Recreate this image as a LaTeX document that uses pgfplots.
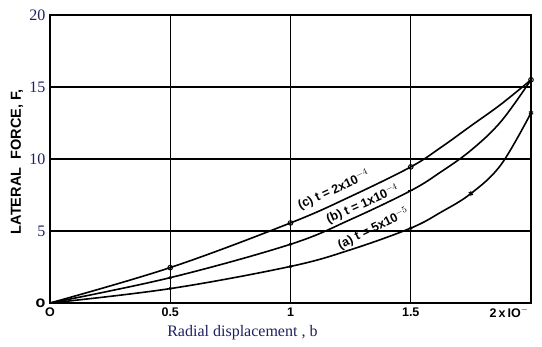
\documentclass[border=0pt]{standalone}
\usepackage{pgfplots}
\pgfplotsset{compat=1.18}
\usepackage{fontspec}
\setmainfont{Liberation Serif}
\setsansfont{Liberation Sans}
\definecolor{navy}{rgb}{0.12,0.12,0.38}
\begin{document}
\begin{tikzpicture}
\begin{axis}[
  scale only axis, width=481pt, height=288pt,
  xmin=0, xmax=2, ymin=0, ymax=20,
  xtick={0,0.5,1,1.5,2}, ytick={0,5,10,15,20},
  xticklabels={O,0.5,1,1.5,{\hspace*{-44pt}2\,x\,IO$^{-}$}},
  yticklabels={{\color{black}\sffamily\bfseries o},5,10,15,20},
  grid=major, major grid style={black, line width=1.2pt},
  axis line style={line width=1.8pt},
  major tick length=0pt,
  xticklabel style={font=\sffamily\bfseries\fontsize{12.5}{12.5}\selectfont, yshift=-1pt},
  yticklabel style={font=\fontsize{16}{16}\selectfont, text=navy, xshift=-1pt},
  xlabel={Radial displacement , b},
  xlabel style={font=\fontsize{16}{16}\selectfont, text=navy, at={(axis description cs:0.40,-0.104)}, anchor=center},
  ylabel={LATERAL\ \ FORCE, F,},
  ylabel style={font=\sffamily\bfseries\fontsize{14.5}{14.5}\selectfont, at={(axis description cs:-0.069,0.49)}, anchor=center},
  clip=false,
]
% curves
\addplot[black, line width=1.6pt, smooth, tension=0.6] coordinates {(0,0) (0.5,2.46) (1,5.56) (1.25,7.4) (1.5,9.45) (1.625,10.8) (1.75,12.3) (1.875,13.8) (2,15.5)};
\addplot[black, line width=1.6pt, smooth, tension=0.6] coordinates {(0,0) (0.5,1.76) (1,4.08) (1.25,5.8) (1.5,7.8) (1.625,9.1) (1.75,10.6) (1.875,12.6) (2,15.5)};
\addplot[black, line width=1.6pt, smooth, tension=0.6] coordinates {(0,0) (0.5,1.0) (1,2.54) (1.25,3.7) (1.5,5.2) (1.625,6.3) (1.75,7.6) (1.875,9.6) (2,13.2)};
% marks
\addplot[only marks, mark=o, mark size=2.3pt, mark options={line width=1pt, fill=white, black}] coordinates {(0.5,2.46) (1,5.56) (1.5,9.45) (2,15.5)};
\addplot[only marks, mark=*, mark size=1.6pt, black] coordinates {(0.5,1.76) (1,4.08) (0.5,1.0) (1,2.54) (1.5,5.2)};
\addplot[only marks, mark=+, mark size=2.5pt, mark options={line width=1pt}, black] coordinates {(1.5,7.8)};
\addplot[only marks, mark=asterisk, mark size=2.5pt, mark options={line width=1pt}, black] coordinates {(1.75,7.6) (2,13.2)};
% curve labels
\node[rotate=25, font=\sffamily\bfseries\fontsize{12.5}{12.5}\selectfont] at (axis cs:1.18,7.85) {(c) t = 2x10$^{-4}$};
\node[rotate=24, font=\sffamily\bfseries\fontsize{12.5}{12.5}\selectfont] at (axis cs:1.30,6.85) {(b) t = 1x10$^{-4}$};
\node[rotate=26, font=\sffamily\bfseries\fontsize{12.5}{12.5}\selectfont] at (axis cs:1.345,5.15) {(a) t = 5x10$^{-5}$};
\end{axis}
\pgfresetboundingbox
\path[use as bounding box] ([shift={(-50pt,-44pt)}]current axis.south west) rectangle ([shift={(11pt,15pt)}]current axis.north east);
\end{tikzpicture}
\end{document}
